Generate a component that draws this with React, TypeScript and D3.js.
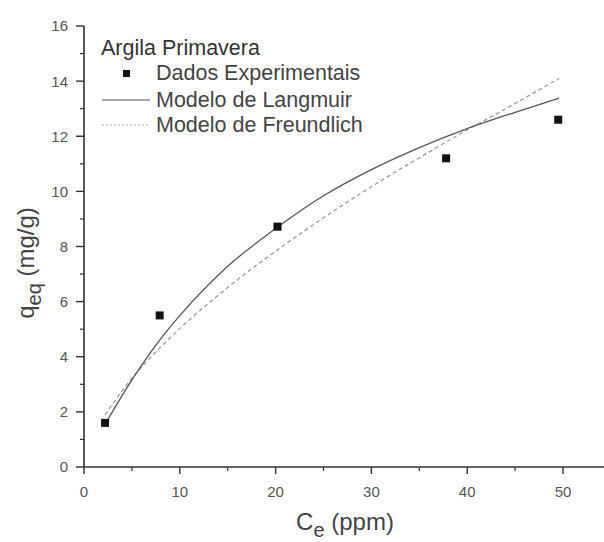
import React from "react";
import * as d3 from "d3";

const title = "Argila Primavera";
const seriesNames = ["Dados Experimentais", "Modelo de Langmuir", "Modelo de Freundlich"];
const expCe = [2.2, 7.9, 20.2, 37.8, 49.5];
const expQ = [1.6, 5.5, 8.72, 11.2, 12.6];
const curveCe = [2.2, 5, 8, 10, 15, 20, 25, 30, 35, 40, 45, 49.6];
const langmuirQ = [1.55, 3.16, 4.65, 5.49, 7.28, 8.65, 9.84, 10.79, 11.59, 12.28, 12.87, 13.38];
const freundlichQ = [1.9, 3.22, 4.35, 5.02, 6.51, 7.83, 9.04, 10.17, 11.22, 12.23, 13.19, 14.1];
const xTicks = [0, 10, 20, 30, 40, 50];
const yTicks = [0, 2, 4, 6, 8, 10, 12, 14, 16];

export default function App() {
  const W = 604, H = 542;
  const x = d3.scaleLinear().domain([0, 50]).range([84, 563]);
  const y = d3.scaleLinear().domain([0, 16]).range([467, 26]);
  const xEnd = 604;
  const line = d3.line<[number, number]>().x(d => x(d[0])).y(d => y(d[1])).curve(d3.curveMonotoneX);
  const lang = line(curveCe.map((c, i) => [c, langmuirQ[i]]));
  const freu = line(curveCe.map((c, i) => [c, freundlichQ[i]]));
  const xMinor = d3.range(5, 55, 10);
  const yMinor = d3.range(1, 16, 2);
  const axisCol = "#333";
  const font = "Arial, 'Liberation Sans', sans-serif";
  const lf = 21.5;
  return (
    <svg width={W} height={H} style={{ position: "absolute", left: 0, top: 0, background: "#fff" }} fontFamily={font}>
      <rect width={W} height={H} fill="#fff" />
      {/* axes */}
      <line x1={x(0)} x2={x(0)} y1={y(16)} y2={y(0)} stroke={axisCol} strokeWidth={1.6} />
      <line x1={x(0) - 1} x2={xEnd} y1={y(0)} y2={y(0)} stroke={axisCol} strokeWidth={1.6} />
      {yTicks.map(t => (
        <g key={"yt" + t}>
          <line x1={x(0) - 8} x2={x(0)} y1={y(t)} y2={y(t)} stroke={axisCol} strokeWidth={1.4} />
          <text x={x(0) - 16} y={y(t)} dy="0.36em" textAnchor="end" fontSize={15} fill="#555">{t}</text>
        </g>
      ))}
      {yMinor.map(t => (
        <line key={"ym" + t} x1={x(0) - 4} x2={x(0)} y1={y(t)} y2={y(t)} stroke={axisCol} strokeWidth={1.2} />
      ))}
      {xTicks.map(t => (
        <g key={"xt" + t}>
          <line x1={x(t)} x2={x(t)} y1={y(0)} y2={y(0) + 7} stroke={axisCol} strokeWidth={1.4} />
          <text x={x(t)} y={y(0) + 30} textAnchor="middle" fontSize={15} fill="#555">{t}</text>
        </g>
      ))}
      {xMinor.map(t => (
        <line key={"xm" + t} x1={x(t)} x2={x(t)} y1={y(0)} y2={y(0) + 4} stroke={axisCol} strokeWidth={1.2} />
      ))}
      {/* axis titles */}
      <text x={345} y={530} textAnchor="middle" fontSize={24} fill="#444">
        C<tspan fontSize={20} dy={7}>e</tspan><tspan dy={-7}> (ppm)</tspan>
      </text>
      <text transform={`translate(${34},${263}) rotate(-90)`} textAnchor="middle" fontSize={24} fill="#444">
        q<tspan fontSize={20} dy={7}>eq</tspan><tspan dy={-7}> (mg/g)</tspan>
      </text>
      {/* curves */}
      <path d={freu || ""} fill="none" stroke="#9a9a9a" strokeWidth={1.3} strokeDasharray="4,3" />
      <path d={lang || ""} fill="none" stroke="#555" strokeWidth={1.3} />
      {expCe.map((c, i) => (
        <rect key={"p" + i} x={x(c) - 4} y={y(expQ[i]) - 4} width={8} height={8} fill="#111" />
      ))}
      {/* legend */}
      <text x={101} y={55} fontSize={lf} fill="#333">{title}</text>
      <rect x={123} y={70} width={7} height={7} fill="#111" />
      <text x={156} y={80} fontSize={lf} fill="#444">{seriesNames[0]}</text>
      <line x1={102} x2={150} y1={100} y2={100} stroke="#555" strokeWidth={1} />
      <text x={156} y={107} fontSize={lf} fill="#444">{seriesNames[1]}</text>
      <line x1={102} x2={150} y1={125} y2={125} stroke="#aaa" strokeWidth={1} strokeDasharray="2,2" />
      <text x={156} y={132} fontSize={lf} fill="#444">{seriesNames[2]}</text>
    </svg>
  );
}
